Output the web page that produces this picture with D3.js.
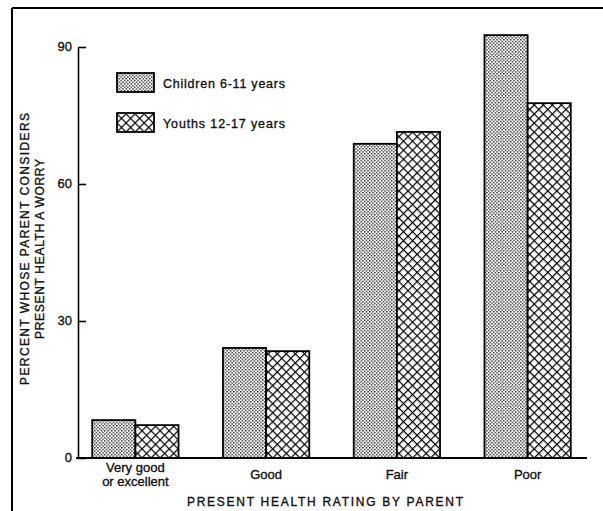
<!DOCTYPE html>
<html>
<head>
<meta charset="utf-8">
<script src="https://cdn.jsdelivr.net/npm/d3@7"></script>
<style>
  body { margin: 0; background: #fff; }
  text { font-family: "Liberation Sans", Arial, Helvetica, sans-serif; fill: #111; stroke: #111; stroke-width: 0.35px; }
</style>
</head>
<body>
<svg id="chart" width="603" height="511"></svg>
<script>
// values
var categories = ["Very good or excellent", "Good", "Fair", "Poor"];
var categoryLines = [["Very good", "or excellent"], ["Good"], ["Fair"], ["Poor"]];
var seriesNames = ["Children 6-11 years", "Youths 12-17 years"];
var children = [8.3, 24.1, 68.8, 92.6];
var youths = [7.2, 23.4, 71.4, 77.7];
var yTicks = [0, 30, 60, 90];

var svg = d3.select("#chart");
var width = +svg.attr("width"),
    height = +svg.attr("height");

var axisX = 78, baseY = 458, topY = 47;

var defs = svg.append("defs");

// fine stipple for children
var dots = defs.append("pattern")
    .attr("id", "dots")
    .attr("patternUnits", "userSpaceOnUse")
    .attr("width", 3.4).attr("height", 3.4);
dots.append("rect").attr("width", 3.4).attr("height", 3.4).attr("fill", "#fff");
dots.append("rect").attr("x", 0).attr("y", 0).attr("width", 1.4).attr("height", 1.4).attr("fill", "#222");
dots.append("rect").attr("x", 1.7).attr("y", 1.7).attr("width", 1.4).attr("height", 1.4).attr("fill", "#222");

// diagonal crosshatch for youths
var hatch = defs.append("pattern")
    .attr("id", "hatch")
    .attr("patternUnits", "userSpaceOnUse")
    .attr("width", 6.4).attr("height", 6.4)
    .attr("patternTransform", "rotate(45)");
hatch.append("rect").attr("width", 6.4).attr("height", 6.4).attr("fill", "#fff");
hatch.append("line").attr("x1", 0).attr("y1", 0).attr("x2", 6.4).attr("y2", 0)
    .attr("stroke", "#000").attr("stroke-width", 2.4);
hatch.append("line").attr("x1", 0).attr("y1", 0).attr("x2", 0).attr("y2", 6.4)
    .attr("stroke", "#000").attr("stroke-width", 2.4);

var fills = ["url(#dots)", "url(#hatch)"];

// frame of the scanned page
svg.append("line").attr("x1", 12).attr("y1", 8).attr("x2", width).attr("y2", 8)
    .attr("stroke", "#000").attr("stroke-width", 2);
svg.append("line").attr("x1", 12).attr("y1", 8).attr("x2", 12).attr("y2", height)
    .attr("stroke", "#000").attr("stroke-width", 2);

var x0 = d3.scaleBand()
    .domain(categories)
    .range([70, 593])
    .paddingInner(0.34)
    .paddingOuter(0.17);

var x1 = d3.scaleBand()
    .domain(seriesNames)
    .range([0, x0.bandwidth()]);

var y = d3.scaleLinear()
    .domain([0, 90])
    .range([baseY, topY]);

var rows = categories.map(function(c, i) {
    return { cat: c, vals: [children[i], youths[i]] };
});

var groups = svg.selectAll(".grp")
    .data(rows)
    .enter().append("g")
    .attr("class", "grp")
    .attr("transform", function(d) { return "translate(" + x0(d.cat) + ",0)"; });

groups.selectAll("rect")
    .data(function(d) { return d.vals.map(function(v, j) { return { key: seriesNames[j], v: v, j: j }; }); })
    .enter().append("rect")
    .attr("x", function(d) { return x1(d.key); })
    .attr("y", function(d) { return y(d.v); })
    .attr("width", x1.bandwidth())
    .attr("height", function(d) { return y(0) - y(d.v); })
    .attr("fill", function(d) { return fills[d.j]; })
    .attr("stroke", "#000")
    .attr("stroke-width", 1.8);

// y axis, ticks pointing inward
var yAxis = d3.axisLeft(y)
    .tickValues(yTicks)
    .tickSize(-8)
    .tickSizeOuter(0)
    .tickPadding(6);

var gy = svg.append("g")
    .attr("transform", "translate(" + axisX + ",0)")
    .call(yAxis);
gy.select(".domain").attr("stroke", "#000").attr("stroke-width", 1.6);
gy.selectAll(".tick line").attr("stroke", "#000").attr("stroke-width", 1.6);
gy.selectAll(".tick text")
    .attr("font-size", 13)
    .attr("font-family", "Liberation Sans, Arial, sans-serif")
    .attr("fill", "#111")
    .attr("dy", "0.3em");

// baseline
svg.append("line")
    .attr("x1", axisX - 2).attr("x2", x0.range()[1] - 6)
    .attr("y1", y(0)).attr("y2", y(0))
    .attr("stroke", "#000").attr("stroke-width", 2);

// category labels
var catLabels = svg.selectAll(".cat")
    .data(categoryLines)
    .enter().append("text")
    .attr("class", "cat")
    .attr("text-anchor", "middle")
    .attr("font-size", 13);
catLabels.each(function(lines, i) {
    var t = d3.select(this);
    var cx = x0(categories[i]) + x0.bandwidth() / 2;
    lines.forEach(function(s, k) {
        t.append("tspan")
            .attr("x", cx)
            .attr("y", 479 + (k - (lines.length - 1) / 2) * 14)
            .text(s);
    });
});

// axis titles
svg.append("text")
    .attr("x", 325).attr("y", 506)
    .attr("text-anchor", "middle")
    .attr("font-size", 12)
    .attr("textLength", 276)
    .attr("lengthAdjust", "spacing")
    .text("PRESENT HEALTH RATING BY PARENT");

svg.append("text")
    .attr("transform", "translate(29,249) rotate(-90)")
    .attr("text-anchor", "middle")
    .attr("font-size", 12)
    .attr("textLength", 272)
    .attr("lengthAdjust", "spacing")
    .text("PERCENT WHOSE PARENT CONSIDERS");

svg.append("text")
    .attr("transform", "translate(44,249) rotate(-90)")
    .attr("text-anchor", "middle")
    .attr("font-size", 12)
    .attr("textLength", 180)
    .attr("lengthAdjust", "spacing")
    .text("PRESENT HEALTH A WORRY");

// legend
var legend = svg.selectAll(".leg")
    .data(seriesNames)
    .enter().append("g")
    .attr("class", "leg")
    .attr("transform", function(d, i) { return "translate(117," + (73 + i * 40) + ")"; });

legend.append("rect")
    .attr("width", 37).attr("height", 19)
    .attr("fill", function(d, i) { return fills[i]; })
    .attr("stroke", "#000")
    .attr("stroke-width", 1.8);

legend.append("text")
    .attr("x", 46).attr("y", 15)
    .attr("font-size", 12.5)
    .attr("textLength", 122)
    .attr("lengthAdjust", "spacing")
    .text(function(d) { return d; });
</script>
</body>
</html>
